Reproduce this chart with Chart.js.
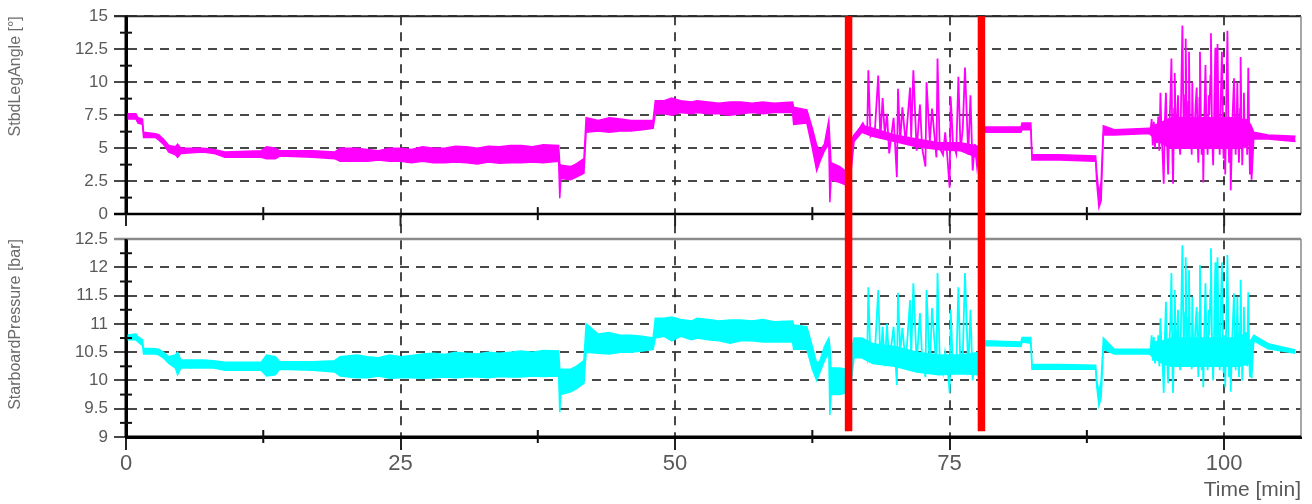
<!DOCTYPE html>
<html>
<head>
<meta charset="utf-8">
<title>Starboard leg angle and pressure</title>
<script src="https://cdn.jsdelivr.net/npm/chart.js@4.4.1/dist/chart.umd.min.js"></script>
<style>
  html, body { margin: 0; padding: 0; background: #fff; }
  #wrap { width: 1312px; height: 504px; }
</style>
</head>
<body>
<div id="wrap"><canvas id="chart" width="1312" height="504"></canvas></div>
<script>
// ---- data (minutes on x) ----
const timeTicks = [0, 25, 50, 75, 100];
const angleTicks = [0, 2.5, 5, 7.5, 10, 12.5, 15];
const pressureTicks = [9, 9.5, 10, 10.5, 11, 11.5, 12, 12.5];

// envelope of the noisy trace (upper / lower edge of the band)
const bandTime = [
    0.0, 0.9, 1.1, 1.5, 1.6, 2.7, 3.0, 3.4, 3.9, 4.5, 4.7, 5.0, 7.0, 8.0, 9.0,
    12.3, 12.8, 13.6, 14.0, 17.0, 19.0, 19.5, 21.0, 22.0, 23.0, 24.0, 25.0, 26.0,
    27.0, 28.0, 29.0, 30.0, 31.0, 32.0, 33.0, 34.0, 35.0, 36.0, 37.0, 38.0, 39.4,
    39.5, 39.6, 40.5, 41.0, 41.7, 41.9, 43.0, 44.0, 45.0, 46.0, 47.0, 48.0, 48.2, 49.0, 49.7,
    50.5, 51.5, 52.0, 53.0, 54.0, 55.0, 56.0, 57.0, 58.0, 59.0,
    60.7, 60.8, 62.0, 62.5, 62.9, 63.2, 63.6, 64.0, 64.1, 64.2,
    65.0, 65.6, 66.0, 66.3, 67.0, 68.0, 70.0, 72.0, 74.0, 76.0, 77.8, 78.0, 81.5,
    81.6, 82.4, 82.5, 85.0, 88.3, 88.4, 88.6, 88.8, 89.0, 90.0, 93.2,
    93.6, 94.4, 95.2, 101.4, 102.4,
    102.7, 104.0, 106.5
];
const angleHigh = [
    7.6, 7.6, 7.3, 7.2, 6.2, 6.1, 6.0, 5.7, 5.2, 5.1, 5.3, 5.0, 5.0, 4.9, 4.7,
    4.8, 5.1, 5.0, 4.8, 4.8, 4.7, 5.0, 5.0, 4.9, 4.8, 5.0, 5.0, 4.9,
    5.1, 5.0, 5.0, 5.15, 5.1, 5.0, 5.15, 5.1, 5.2, 5.2, 5.1, 5.25, 5.2,
    3.8, 3.7, 3.6, 3.8, 4.2, 7.3, 7.1, 7.3, 7.2, 7.1, 7.1, 7.1, 8.6, 8.6, 8.8,
    8.6, 8.5, 8.6, 8.5, 8.4, 8.5, 8.5, 8.4, 8.5, 8.4,
    8.5, 8.1, 7.9, 6.5, 5.2, 4.8, 5.3, 7.1, 5.5, 3.9,
    3.6, 3.2, 5.5, 6.0, 6.7, 6.5, 6.0, 5.7, 5.4, 5.4, 5.1, 6.6, 6.6,
    6.9, 6.9, 4.5, 4.5, 4.4, 3.2, 1.5, 2.5, 6.7, 6.4, 6.5,
    6.7, 7.0, 7.3, 7.3, 6.8,
    6.2, 6.0, 5.9
];
const angleLow = [
    7.2, 7.2, 6.9, 6.8, 5.8, 5.8, 5.6, 5.3, 4.7, 4.5, 4.3, 4.6, 4.7, 4.6, 4.3,
    4.3, 4.2, 4.2, 4.4, 4.3, 4.2, 4.0, 4.0, 4.0, 4.1, 4.0, 4.0, 3.9,
    4.0, 3.9, 3.9, 3.95, 3.9, 3.8, 3.95, 3.85, 3.9, 3.9, 3.95, 3.9, 4.0,
    1.2, 2.7, 2.6, 2.8, 3.1, 6.2, 6.3, 6.2, 6.3, 6.3, 6.4, 6.5, 7.6, 7.6, 7.5,
    7.7, 7.6, 7.7, 7.6, 7.6, 7.5, 7.6, 7.7, 7.6, 7.7,
    7.7, 6.8, 6.9, 5.0, 3.3, 4.0, 4.8, 5.3, 0.9, 2.6,
    2.4, 2.2, 3.0, 5.5, 6.2, 5.9, 5.5, 5.1, 4.9, 4.8, 4.2, 6.2, 6.2,
    6.4, 6.4, 4.1, 4.1, 4.0, 2.4, 0.5, 1.0, 6.0, 6.0, 6.1,
    5.8, 5.3, 5.0, 5.0, 5.3,
    5.7, 5.7, 5.5
];
const pressureHigh = [
    10.8, 10.82, 10.77, 10.72, 10.57, 10.56, 10.55, 10.5, 10.42, 10.45, 10.5, 10.36, 10.36, 10.35, 10.32,
    10.32, 10.45, 10.42, 10.33, 10.33, 10.35, 10.42, 10.45, 10.42, 10.4, 10.45, 10.42, 10.44,
    10.47, 10.48, 10.46, 10.5, 10.48, 10.47, 10.5, 10.48, 10.5, 10.52, 10.5, 10.53, 10.52,
    10.2, 10.2, 10.2, 10.25, 10.35, 11.0, 10.82, 10.85, 10.8, 10.8, 10.78, 10.75, 11.1, 11.1, 11.12,
    11.08, 11.05, 11.1, 11.08, 11.05, 11.07, 11.07, 11.05, 11.08, 11.04,
    11.05, 10.98, 10.95, 10.6, 10.3, 10.35, 10.6, 10.75, 10.6, 10.22,
    10.22, 10.2, 10.5, 10.75, 10.75, 10.65, 10.6, 10.5, 10.45, 10.45, 10.5, 10.7, 10.68,
    10.76, 10.76, 10.28, 10.28, 10.27, 10.0, 9.8, 10.0, 10.75, 10.55, 10.55,
    10.65, 10.7, 10.75, 10.75, 10.7,
    10.8, 10.65, 10.54
];
const pressureLow = [
    10.72, 10.72, 10.68, 10.62, 10.47, 10.47, 10.45, 10.4, 10.3, 10.22, 10.1, 10.22, 10.22, 10.22, 10.18,
    10.18, 10.08, 10.1, 10.2, 10.18, 10.15, 10.08, 10.05, 10.05, 10.08, 10.04, 10.05, 10.05,
    10.04, 10.05, 10.06, 10.05, 10.06, 10.06, 10.05, 10.07, 10.06, 10.06, 10.08, 10.07, 10.08,
    9.44, 9.75, 9.8, 9.85, 9.95, 10.5, 10.48, 10.47, 10.5, 10.5, 10.52, 10.55, 10.75, 10.78, 10.7,
    10.78, 10.72, 10.75, 10.72, 10.7, 10.66, 10.7, 10.7, 10.68, 10.68,
    10.68, 10.55, 10.55, 10.2, 10.0, 10.15, 10.35, 10.5, 9.39, 9.75,
    9.75, 9.78, 9.9, 10.4, 10.4, 10.3, 10.25, 10.15, 10.1, 10.12, 10.1, 10.62, 10.6,
    10.68, 10.66, 10.2, 10.2, 10.2, 9.9, 9.55, 9.7, 10.55, 10.47, 10.47,
    10.4, 10.3, 10.25, 10.25, 10.3,
    10.7, 10.56, 10.48
];

// individual spikes in the two oscillating stretches (null = break)
const spikeTime = [
    66.3, 67.1, 67.5, 67.6, 67.8, 68.2, 68.5, 68.7, 68.9, 69.1, 69.3, 69.5,
    69.9, 70.2, 70.3, 70.5, 70.7, 71.0, 71.4, 71.5, 71.7, 72.0, 72.3, 72.5,
    72.8, 72.9, 73.2, 73.4, 73.8, 73.9, 74.1, 74.4, 74.6, 74.8, 75.0, 75.1,
    75.3, 75.6, 75.8, 76.0, 76.2, 76.4, 76.7, 76.9, 77.1, 77.3, 77.5, 77.7,
    85.0,
    93.3, 93.4, 93.5, 93.6, 93.7, 93.8, 93.9, 94.0, 94.1, 94.2,
    94.3, 94.4, 94.5, 94.6, 94.7, 94.8, 94.9, 95.0, 95.1, 95.2,
    95.3, 95.35, 95.45, 95.5, 95.6, 95.65, 95.75, 95.8, 95.9, 96.0,
    96.1, 96.2, 96.3, 96.35, 96.45, 96.5, 96.6, 96.65, 96.75, 96.8,
    96.9, 96.95, 97.05, 97.1, 97.2, 97.3, 97.4, 97.5, 97.6, 97.65,
    97.75, 97.8, 97.9, 97.95, 98.05, 98.1, 98.2, 98.3, 98.4, 98.5,
    98.6, 98.65, 98.75, 98.8, 98.9, 99.0, 99.1, 99.2, 99.25, 99.3,
    99.4, 99.5, 99.6, 99.7, 99.8, 99.9, 99.95, 100.05, 100.1, 100.2,
    100.3, 100.4, 100.45, 100.55, 100.6, 100.75, 100.9, 101.0, 101.05, 101.15,
    101.2, 101.3, 101.35, 101.45, 101.5, 101.6, 101.65, 101.75, 101.8, 101.9,
    102.0, 102.1, 102.2, 102.3, 102.35, 102.45, 102.5, 102.7
];
const angleSpike = [
    5.8, 6.9, 6.2, 10.9, 5.9, 6.4, 10.5, 5.7, 8.8, 6.0, 7.6, 4.6,
    7.3, 2.8, 9.5, 5.5, 8.1, 5.4, 9.6, 5.8, 10.9, 4.8, 8.3, 5.0,
    3.6, 10.0, 5.5, 8.0, 4.3, 11.8, 5.0, 4.5, 6.2, 4.3, 2.0, 8.9,
    5.5, 4.6, 10.4, 4.8, 6.5, 11.1, 4.5, 9.0, 3.3, 5.3, 3.6, 5.0,
    null,
    6.3, 7.2, 5.2, 7.0, 5.0, 6.8, 5.4, 7.4, 4.8, 9.2,
    6.0, 4.5, 2.3, 7.0, 9.2, 5.5, 3.0, 6.5, 8.5, 11.8,
    4.0, 2.3, 8.0, 10.7, 6.0, 5.0, 7.8, 9.0, 5.5, 4.5,
    9.5, 14.3, 7.0, 5.2, 9.0, 13.3, 6.5, 5.0, 8.5, 12.3,
    5.8, 6.7, 4.5, 10.0, 5.0, 6.0, 8.2, 9.6, 5.2, 3.9,
    8.8, 12.3, 6.2, 4.5, 6.8, 2.4, 7.5, 11.3, 6.0, 4.5,
    9.0, 7.5, 10.5, 13.7, 6.0, 3.7, 8.0, 12.6, 7.0, 5.0,
    12.9, 6.5, 4.5, 9.0, 12.3, 6.0, 4.2, 7.0, 3.0, 8.5,
    13.9, 6.0, 3.9, 6.5, 1.8, 7.0, 10.3, 6.0, 4.5, 7.5,
    10.0, 5.5, 3.9, 8.0, 11.9, 6.0, 3.7, 7.0, 9.2, 5.0,
    7.2, 4.5, 11.1, 5.0, 3.0, 5.5, 2.6, 6.0
];
const pressureSpike = [
    10.5, 10.72, 10.4, 11.65, 10.36, 10.5, 11.6, 10.3, 10.95, 10.25, 11.0, 10.3,
    10.95, 9.92, 11.55, 10.5, 10.93, 10.3, 11.42, 10.4, 11.72, 10.3, 11.19, 10.4,
    10.06, 11.6, 10.22, 11.28, 10.22, 11.9, 10.36, 10.13, 10.5, 10.3, 9.78, 11.25,
    10.22, 10.2, 11.65, 10.13, 10.45, 11.9, 10.18, 11.25, 10.0, 10.36, 10.15, 10.4,
    null,
    10.5, 10.8, 10.35, 10.77, 10.3, 10.7, 10.35, 10.8, 10.25, 11.1,
    10.55, 10.3, 9.78, 10.75, 11.39, 10.45, 9.95, 10.6, 11.0, 11.9,
    10.1, 9.78, 10.95, 11.6, 10.55, 10.3, 10.95, 11.25, 10.45, 10.18,
    11.3, 12.39, 10.8, 10.36, 11.2, 12.18, 10.7, 10.3, 11.1, 11.95,
    10.5, 10.71, 10.2, 11.48, 10.35, 10.54, 11.0, 11.3, 10.4, 10.06,
    11.2, 12.04, 10.6, 10.18, 10.75, 9.88, 10.85, 11.72, 10.6, 10.18,
    11.25, 10.8, 11.6, 12.34, 10.6, 10.0, 11.0, 12.09, 10.8, 10.3,
    12.18, 10.7, 10.18, 11.3, 12.09, 10.6, 10.13, 10.8, 9.88, 11.1,
    12.22, 10.6, 10.06, 10.7, 9.8, 10.8, 11.54, 10.6, 10.18, 10.9,
    11.48, 10.45, 10.06, 11.0, 11.78, 10.6, 10.0, 10.8, 11.3, 10.35,
    10.85, 10.25, 11.56, 10.3, 10.06, 10.4, 10.04, 10.77
];

// red event markers
const markerTimes = [65.8, 77.9];
const markerBottom = 9.1; // in bar, lower end of the markers

// ---- styling ----
const MAGENTA = '#ff00ff';
const CYAN = '#00ffff';
const FONT = "'Liberation Sans', Arial, Helvetica, sans-serif";
const GRID = 'rgba(40, 40, 40, 0.85)';
const TICK_TEXT = '#595959';
const TITLE_TEXT = '#6b6b6b';
const DASH = [9, 7];

const toPoints = (xs, ys) => xs.map((t, i) => ({ x: t, y: ys[i] }));
const midpoints = arr => arr.slice(1).map((v, i) => (v + arr[i]) / 2);

const panelFrames = {
    id: 'panelFrames',
    afterDatasetsDraw(chart) {
        const { ctx, chartArea, scales: { x, yTop, yBottom } } = chart;
        const left = chartArea.left;
        const right = chartArea.right;
        const line = (x1, y1, x2, y2, color, w) => {
            ctx.strokeStyle = color;
            ctx.lineWidth = w;
            ctx.beginPath();
            ctx.moveTo(x1, y1);
            ctx.lineTo(x2, y2);
            ctx.stroke();
        };
        ctx.save();
        // upper panel box
        line(left - 12, yTop.top, right, yTop.top, '#2a2a2a', 2);
        line(right, yTop.top, right, yTop.bottom, '#8a8a8a', 1.5);
        line(left - 12, yTop.bottom, right, yTop.bottom, '#000', 2.5);
        line(left, yTop.top, left, yTop.bottom, '#000', 3);
        // lower panel box
        line(left - 12, yBottom.top, right, yBottom.top, '#8a8a8a', 2.5);
        line(right, yBottom.top, right, yBottom.bottom, '#8a8a8a', 1.5);
        line(left, yBottom.top, left, yBottom.bottom, '#000', 3);
        line(left, yBottom.bottom, right, yBottom.bottom, '#000', 3);

        // time ticks below upper panel
        timeTicks.forEach(v => {
            const px = x.getPixelForValue(v);
            line(px, yTop.bottom, px, yTop.bottom + 12, '#222', 2);
        });
        // minor time ticks on both panels
        midpoints(timeTicks).forEach(v => {
            const px = x.getPixelForValue(v);
            line(px, yTop.bottom - 7, px, yTop.bottom + 6, '#111', 2);
            line(px, yBottom.bottom - 7, px, yBottom.bottom + 6, '#111', 2);
        });
        // minor value ticks on the left axes
        midpoints(angleTicks).forEach(v => {
            const py = yTop.getPixelForValue(v);
            line(left - 6, py, left + 6, py, '#111', 2);
        });
        midpoints(pressureTicks).forEach(v => {
            const py = yBottom.getPixelForValue(v);
            line(left - 6, py, left + 6, py, '#111', 2);
        });
        ctx.restore();
    }
};

const eventMarkers = {
    id: 'eventMarkers',
    afterDatasetsDraw(chart) {
        const { ctx, scales: { x, yTop, yBottom } } = chart;
        ctx.save();
        ctx.strokeStyle = '#ff0000';
        ctx.lineWidth = 7.5;
        markerTimes.forEach(t => {
            const px = x.getPixelForValue(t);
            ctx.beginPath();
            ctx.moveTo(px, yTop.top);
            ctx.lineTo(px, yBottom.getPixelForValue(markerBottom));
            ctx.stroke();
        });
        ctx.restore();
    }
};

const valueAxis = (ticks, title, min, max, weight) => ({
    type: 'linear',
    position: 'left',
    stack: 'panels',
    stackWeight: weight,
    min: min,
    max: max,
    afterBuildTicks: s => { s.ticks = ticks.map(v => ({ value: v })); },
    afterFit: s => { s.width = 126; },
    ticks: {
        autoSkip: false,
        callback: v => String(v),
        color: TICK_TEXT,
        font: { family: FONT, size: 17 },
        padding: 6,
    },
    grid: {
        color: GRID,
        lineWidth: 2,
        tickLength: 12,
        tickColor: '#333',
        tickWidth: 1.8,
        tickBorderDash: [],
    },
    border: { color: '#000', width: 3, dash: DASH },
    title: {
        display: true,
        text: title,
        align: 'end',
        color: TITLE_TEXT,
        font: { family: FONT, size: 16 },
        padding: { top: 6, bottom: 0 },
    },
});

const ctx = document.getElementById('chart');

new Chart(ctx, {
    type: 'line',
    data: {
        datasets: [
            {
                data: toPoints(bandTime, angleHigh),
                yAxisID: 'yTop',
                borderColor: MAGENTA,
                backgroundColor: MAGENTA,
                borderWidth: 1.5,
                fill: false,
            },
            {
                data: toPoints(bandTime, angleLow),
                yAxisID: 'yTop',
                borderColor: MAGENTA,
                backgroundColor: MAGENTA,
                borderWidth: 1.5,
                fill: '-1',
            },
            {
                data: toPoints(spikeTime, angleSpike),
                yAxisID: 'yTop',
                borderColor: MAGENTA,
                borderWidth: 1.8,
                fill: false,
                spanGaps: false,
            },
            {
                data: toPoints(bandTime, pressureHigh),
                yAxisID: 'yBottom',
                borderColor: CYAN,
                backgroundColor: CYAN,
                borderWidth: 1.5,
                fill: false,
            },
            {
                data: toPoints(bandTime, pressureLow),
                yAxisID: 'yBottom',
                borderColor: CYAN,
                backgroundColor: CYAN,
                borderWidth: 1.5,
                fill: '-1',
            },
            {
                data: toPoints(spikeTime, pressureSpike),
                yAxisID: 'yBottom',
                borderColor: CYAN,
                borderWidth: 1.8,
                fill: false,
                spanGaps: false,
            },
        ]
    },
    options: {
        responsive: false,
        animation: false,
        layout: { padding: { top: 16, right: 11, bottom: 0, left: 0 } },
        elements: {
            point: { radius: 0, hoverRadius: 0 },
            line: { tension: 0 },
        },
        plugins: {
            legend: { display: false },
            tooltip: { enabled: false },
        },
        scales: {
            x: {
                type: 'linear',
                min: 0,
                max: 107,
                afterBuildTicks: s => { s.ticks = timeTicks.map(v => ({ value: v })); },
                afterFit: s => { s.height = 67; },
                ticks: {
                    autoSkip: false,
                    callback: v => String(v),
                    color: TICK_TEXT,
                    font: { family: FONT, size: 22 },
                    padding: 1,
                    maxRotation: 0,
                },
                grid: {
                    color: c => (c.tick && c.tick.value === 0) ? 'rgba(0,0,0,0)' : GRID,
                    lineWidth: 2,
                    tickLength: 13,
                    tickColor: '#222',
                    tickWidth: 2,
                    tickBorderDash: [],
                },
                border: { color: '#000', width: 3, dash: DASH },
                title: {
                    display: true,
                    text: 'Time [min]',
                    align: 'end',
                    color: TICK_TEXT,
                    font: { family: FONT, size: 21 },
                    padding: { top: 0, bottom: 1 },
                },
            },
            yBottom: valueAxis(pressureTicks, 'StarboardPressure [bar]', 9, 12.5, 198),
            yGap: {
                type: 'linear',
                position: 'left',
                stack: 'panels',
                stackWeight: 25,
                ticks: { display: false },
                grid: { display: false },
                border: { display: false },
            },
            yTop: valueAxis(angleTicks, 'StbdLegAngle [°]', 0, 15, 198),
        }
    },
    plugins: [panelFrames, eventMarkers]
});
</script>
</body>
</html>
